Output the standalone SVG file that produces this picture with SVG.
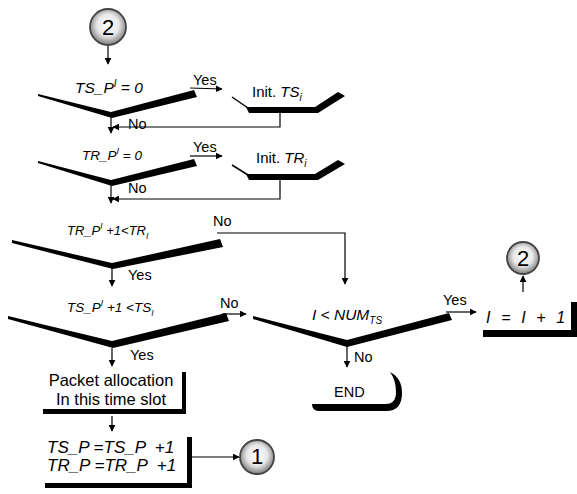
<svg xmlns="http://www.w3.org/2000/svg" width="577" height="494" viewBox="0 0 577 494">
<defs>
<radialGradient id="cg" cx="50%" cy="45%" r="55%">
<stop offset="0" stop-color="#ffffff"/>
<stop offset="0.55" stop-color="#e8e8e8"/>
<stop offset="1" stop-color="#7a7a7a"/>
</radialGradient>
<marker id="ah" viewBox="0 0 10 10" refX="9" refY="5" markerWidth="7" markerHeight="7" orient="auto" markerUnits="userSpaceOnUse">
<path d="M0,0 L10,5 L0,10 z" fill="#000"/>
</marker>
</defs>
<style>
text{font-family:"Liberation Sans",Arial,sans-serif;fill:#000}
.lb{font-size:14.5px}
.it{font-style:italic}
.conn{stroke:#000;stroke-width:1.2;fill:none}
.arr{marker-end:url(#ah)}
.sh{fill:#000}
.circ{fill:url(#cg);stroke:#444;stroke-width:1.8}
.num{font-size:22px;text-anchor:middle}
</style>
<rect width="577" height="494" fill="#fff"/>

<g id="connectors">
<line class="conn arr" x1="108" y1="46" x2="108" y2="64"/>
<line class="conn arr" x1="190" y1="88" x2="222" y2="89"/>
<line class="conn arr" x1="190" y1="156" x2="222" y2="156"/>
<line class="conn arr" x1="111" y1="117" x2="111" y2="133"/>
<polyline class="conn arr" points="280,113 280,127 113,127"/>
<line class="conn arr" x1="111" y1="185" x2="111" y2="203"/>
<polyline class="conn arr" points="280,180 280,199 113,199"/>
<polyline class="conn arr" points="217,233 345,233 345,284"/>
<line class="conn arr" x1="112" y1="268" x2="112" y2="286"/>
<line class="conn arr" x1="222" y1="314" x2="246" y2="314"/>
<line class="conn arr" x1="112" y1="348" x2="112" y2="366"/>
<line class="conn arr" x1="446" y1="312" x2="476" y2="312"/>
<line class="conn arr" x1="347" y1="346" x2="347" y2="367"/>
<line class="conn arr" x1="523" y1="292" x2="523" y2="276"/>
<line class="conn arr" x1="112" y1="416" x2="112" y2="431"/>
<line class="conn arr" x1="192" y1="457" x2="239" y2="457"/>
</g>

<g id="start2">
<circle class="circ" cx="108" cy="27" r="18"/>
<text class="num" x="108" y="35">2</text>
</g>

<g id="dec1">
<polygon class="sh" points="38,94 111,112 194,90 197,97 112,118 38,96"/>
<text class="it" x="75" y="93" font-size="15.5">TS_P<tspan font-size="10" dy="-6">I</tspan><tspan dy="6"> = 0</tspan></text>
<text class="lb" x="193" y="85">Yes</text>
<text class="lb" x="128" y="129">No</text>
</g>

<g id="initTS">
<line x1="232" y1="97" x2="248" y2="108" stroke="#000" stroke-width="1.5"/>
<polygon class="sh" points="246,107 315,107 338,92 345,96 318,113 249,113"/>
<text x="252" y="97" font-size="15">Init. <tspan class="it">TS</tspan><tspan class="it" font-size="10" dy="4">i</tspan></text>
</g>

<g id="dec2">
<polygon class="sh" points="38,161 111,180 194,159 197,166 112,186 38,163"/>
<text class="it" x="82" y="160" font-size="13.5">TR_P<tspan font-size="9" dy="-6">I</tspan><tspan dy="6"> = 0</tspan></text>
<text class="lb" x="193" y="152">Yes</text>
<text class="lb" x="128" y="193">No</text>
</g>

<g id="initTR">
<line x1="232" y1="165" x2="248" y2="175" stroke="#000" stroke-width="1.5"/>
<polygon class="sh" points="246,174 315,174 338,160 345,164 318,180 249,180"/>
<text x="256" y="163" font-size="15">Init. <tspan class="it">TR</tspan><tspan class="it" font-size="10" dy="4">i</tspan></text>
</g>

<g id="dec3">
<polygon class="sh" points="12,240 112,263 220,239 223,247 113,269 12,243"/>
<text class="it" x="67" y="235" font-size="13">TR_P<tspan font-size="8.5" dy="-6">I</tspan><tspan dy="6"> +1&lt;TR</tspan><tspan font-size="8.5" dy="4">I</tspan></text>
<text class="lb" x="213" y="226">No</text>
<text class="lb" x="128" y="280">Yes</text>
</g>

<g id="dec4">
<polygon class="sh" points="8,316 112,341 226,313 229,321 113,348 8,319"/>
<text class="it" x="67" y="312" font-size="13.5">TS_P<tspan font-size="8.5" dy="-6">I</tspan><tspan dy="6"> +1 &lt;TS</tspan><tspan font-size="8.5" dy="4">I</tspan></text>
<text class="lb" x="220" y="308">No</text>
<text class="lb" x="130" y="360">Yes</text>
</g>

<g id="dec5">
<polygon class="sh" points="253,316 347,340 449,313 452,320 347,347 253,319"/>
<text class="it" x="312" y="320" font-size="15.5">I &lt; NUM<tspan font-size="10" dy="4">TS</tspan></text>
<text class="lb" x="443" y="305">Yes</text>
<text class="lb" x="354" y="362">No</text>
</g>

<g id="inc">
<rect class="sh" x="571" y="302" width="6" height="35"/>
<rect class="sh" x="483" y="330" width="94" height="7"/>
<text class="it" x="486" y="323" font-size="16" xml:space="preserve" letter-spacing="0.6">I  =  I  +  1</text>
</g>

<g id="goto2">
<circle class="circ" cx="523" cy="258" r="16"/>
<text class="num" x="523" y="266" font-size="21">2</text>
</g>

<g id="end">
<path class="sh" d="M312,404 L386,404 Q396,404 396,392 Q396,380 390,372 Q402,378 402,393 Q402,411 386,411 L318,411 Q312,410 312,404 z"/>
<text class="lb" x="334" y="397" font-size="14">END</text>
</g>

<g id="alloc">
<rect class="sh" x="182" y="372" width="4" height="42"/>
<rect class="sh" x="43" y="409" width="143" height="5"/>
<text x="111" y="386" font-size="16.5" text-anchor="middle">Packet allocation</text>
<text x="111" y="405" font-size="16.5" text-anchor="middle">In this time slot</text>
</g>

<g id="update">
<rect class="sh" x="187" y="437" width="5" height="51"/>
<rect class="sh" x="45" y="483" width="147" height="5"/>
<text class="it" x="47" y="453" font-size="17" xml:space="preserve">TS_P =TS_P  +1</text>
<text class="it" x="47" y="471" font-size="17" xml:space="preserve">TR_P =TR_P  +1</text>
</g>

<g id="goto1">
<circle class="circ" cx="257" cy="457" r="17"/>
<text class="num" x="257" y="464" font-size="19">1</text>
</g>
</svg>
